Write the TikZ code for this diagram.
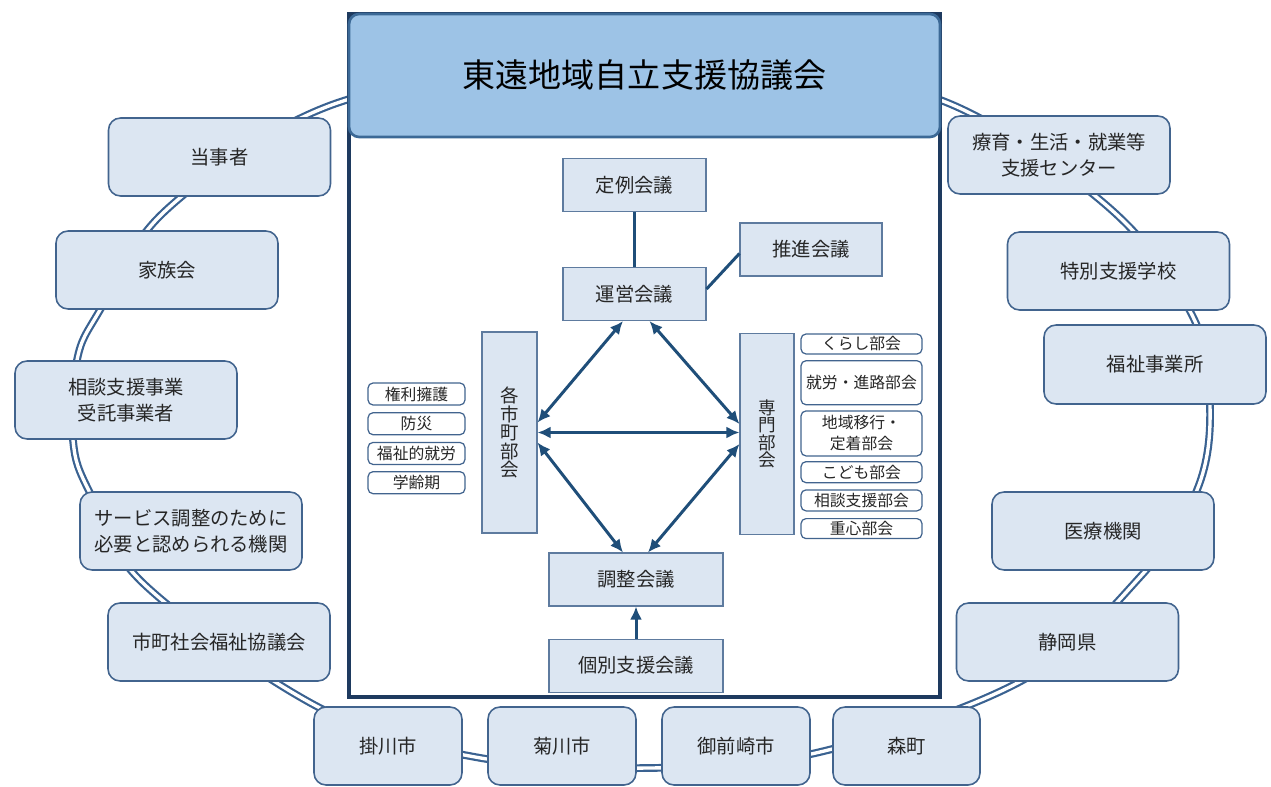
\documentclass[tikz,border=0pt]{standalone}
\usepackage{fontspec}
\setmainfont{Noto Sans CJK JP}
\usepackage{xcolor}
\usetikzlibrary{positioning, arrows.meta}

\definecolor{boxfill}{RGB}{220,230,242}
\definecolor{boxline}{RGB}{66,100,142}
\definecolor{ringline}{RGB}{58,98,145}
\definecolor{titlefill}{RGB}{157,195,230}
\definecolor{titleline}{RGB}{60,105,150}
\definecolor{frameline}{RGB}{30,58,95}
\definecolor{linkblue}{RGB}{31,78,121}
\definecolor{txt}{RGB}{38,38,38}

\tikzset{
  member/.style={draw=boxline, line width=0.9pt, fill=boxfill, rounded corners=2.4mm,
    minimum width=4.44cm, minimum height=1.56cm, inner sep=0pt, align=center,
    font=\fontsize{11}{15}\selectfont, text=txt},
  meeting/.style={draw=boxline!85, line width=0.6pt, fill=boxfill,
    minimum width=2.86cm, minimum height=1.06cm, inner sep=0pt,
    font=\fontsize{11}{14}\selectfont, text=txt},
  bukai/.style={meeting, minimum height=4.02cm, align=center},
  sub/.style={draw=boxline, line width=0.7pt, fill=white, rounded corners=1mm,
    inner sep=0pt, align=center, font=\fontsize{9}{12}\selectfont, text=txt},
  link/.style={linkblue, line width=1.7pt},
  ring/.style={draw=ringline, line width=1.25pt, double=white, double distance=1.9pt}
}

\begin{document}
\begin{tikzpicture}[x=0.02cm, y=-0.02cm]
    \useasboundingbox (0,0) rectangle (1271,787);
    \fill[white] (0,0) rectangle (1271,787);

    % ring behind everything
    \draw[ring] plot[smooth cycle, tension=0.6] coordinates {
      (645,70) (850,82) (970,113) (1115,213) (1193,317) (1210,405) (1197,490)
      (1140,577) (1023,680) (820,752) (649,768) (475,757) (320,708) (145,585)
      (90,493) (73,440) (77,360) (100,310) (163,213) (303,117) (440,82)};

    % council frame
    \draw[frameline, line width=2pt, fill=white] (349,14) rectangle (940,697);
    \node[draw=titleline, line width=1.5pt, fill=titlefill, rounded corners=2mm,
      minimum width=11.82cm, minimum height=2.46cm, inner sep=0pt,
      font=\fontsize{18.8}{22}\selectfont, text=black] (title) at (644.5,75.5) {東遠地域自立支援協議会};

    % meetings
    \node[meeting] (teirei) at (634.5,185) {定例会議};
    \node[meeting] (unei) [below=1.1cm of teirei] {運営会議};
    \node[meeting, minimum width=2.84cm] (suishin) at (811,249.5) {推進会議};
    \node[bukai, minimum width=1.1cm, font=\fontsize{10.5}{10.5}\selectfont] (kakushi) at (509.5,432.5) {各\\市\\町\\部\\会};
    \node[bukai, minimum width=1.08cm, font=\fontsize{10}{10}\selectfont] (senmon) at (767,434) {専\\門\\部\\会};
    \node[meeting, minimum width=3.48cm] (chosei) at (636,579.5) {調整会議};
    \node[meeting, minimum width=3.48cm] (kobetsu) [below=0.64cm of chosei] {個別支援会議};

    % 各市町部会
    \node[sub, minimum width=1.94cm, minimum height=0.44cm] (kenri) at (416.5,394) {権利擁護};
    \node[sub, minimum width=1.94cm, minimum height=0.44cm] (bosai) [below=1.3mm of kenri] {防災};
    \node[sub, minimum width=1.94cm, minimum height=0.44cm] (shuro) [below=1.3mm of bosai] {福祉的就労};
    \node[sub, minimum width=1.94cm, minimum height=0.44cm] (gakurei) [below=1.2mm of shuro] {学齢期};

    % 専門部会
    \node[sub, minimum width=2.42cm, minimum height=0.4cm] (kurashi) at (861.5,344) {くらし部会};
    \node[sub, minimum width=2.42cm, minimum height=0.88cm] (shinro) [below=1.1mm of kurashi] {就労・進路部会};
    \node[sub, minimum width=2.42cm, minimum height=0.9cm] (chiiki) [below=1mm of shinro] {地域移行・\\定着部会};
    \node[sub, minimum width=2.42cm, minimum height=0.42cm] (kodomo) [below=0.9mm of chiiki] {こども部会};
    \node[sub, minimum width=2.42cm, minimum height=0.42cm] (sodanbu) [below=1.2mm of kodomo] {相談支援部会};
    \node[sub, minimum width=2.42cm, minimum height=0.4cm] (jushin) [below=1.3mm of sodanbu] {重心部会};

    \draw[link] (teirei) -- (unei);
    \draw[link] ([yshift=0.1cm]unei.east) -- ([yshift=-0.08cm]suishin.west);
    \draw[link, -{Latex[length=2.6mm, width=2.4mm]}] (kobetsu) -- (chosei);
    \draw[link, {Latex[length=2.6mm, width=2.4mm]}-{Latex[length=2.6mm, width=2.4mm]}] (kakushi) -- (senmon.west |- kakushi);
    \draw[link, {Latex[length=2.6mm, width=2.4mm]}-{Latex[length=2.6mm, width=2.4mm]}] ([yshift=2mm]kakushi.east) -- ([xshift=-2.3mm]unei.south);
    \draw[link, {Latex[length=2.6mm, width=2.4mm]}-{Latex[length=2.6mm, width=2.4mm]}] ([yshift=-2mm]kakushi.east) -- ([xshift=-2.6mm]chosei.north);
    \draw[link, {Latex[length=2.6mm, width=2.4mm]}-{Latex[length=2.6mm, width=2.4mm]}] ([yshift=2mm]senmon.west) -- ([xshift=3mm]unei.south);
    \draw[link, {Latex[length=2.6mm, width=2.4mm]}-{Latex[length=2.6mm, width=2.4mm]}] ([yshift=-2mm]senmon.west) -- ([xshift=2.4mm]chosei.north);

    % members round the ring
    \node[member] (tojisha) at (219.5,157) {当事者};
    \node[member] (kazoku) at (167,270) {家族会};
    \node[member] (sodan) at (126,400) {相談支援事業\\受託事業者};
    \node[member] (service) at (191,531) {サービス調整のために\\必要と認められる機関};
    \node[member] (shakyo) at (219,642) {市町社会福祉協議会};
    \node[member, minimum width=2.96cm] (kakegawa) at (388,746) {掛川市};
    \node[member, minimum width=2.96cm] (kikugawa) at (562,746) {菊川市};
    \node[member, minimum width=2.96cm] (omaezaki) at (736,746) {御前崎市};
    \node[member, minimum width=2.94cm] (mori) at (906.5,746) {森町};
    \node[member] (shizuoka) at (1067.5,642) {静岡県};
    \node[member] (iryo) at (1103,531) {医療機関};
    \node[member, minimum height=1.58cm] (fukushi) at (1155,364.5) {福祉事業所};
    \node[member] (tokubetsu) at (1118.5,271) {特別支援学校};
    \node[member] (ryoiku) at (1059,155) {療育・生活・就業等\\支援センター};
\end{tikzpicture}
\end{document}
